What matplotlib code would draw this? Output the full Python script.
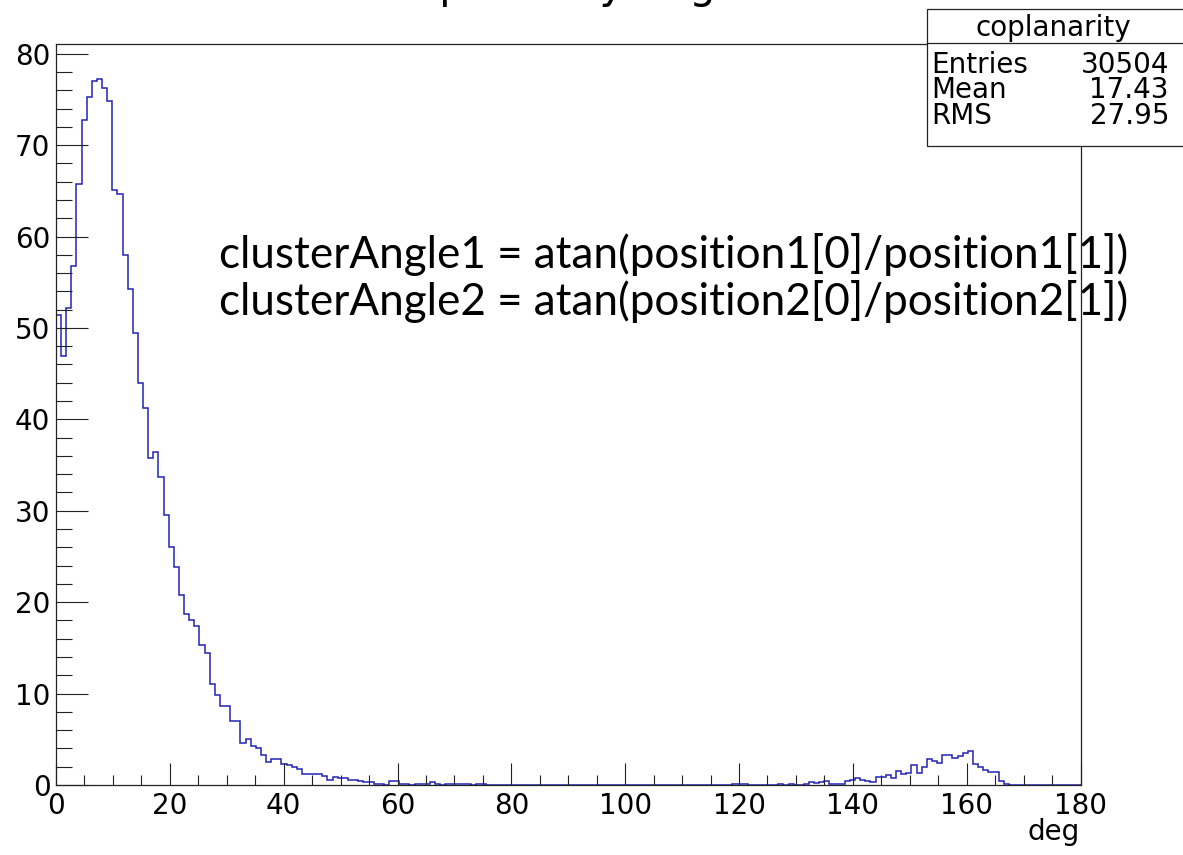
import matplotlib
matplotlib.use('Agg')
import matplotlib.pyplot as plt
import numpy as np
from matplotlib.patches import Rectangle
from matplotlib.lines import Line2D
from matplotlib.ticker import MultipleLocator

# ヒストグラム: 200 bins, 0-180 deg
x_min, x_max = 0, 180
counts = [
    51.4, 46.9, 52.2, 56.8, 65.7, 72.8, 75.3, 77.0, 77.2, 76.3,   # 0-9
    74.8, 65.1, 64.7, 58.0, 54.3, 49.4, 44.0, 41.2, 35.8, 36.4,   # 10-19
    33.7, 29.5, 26.0, 23.9, 20.8, 18.7, 18.1, 17.4, 15.3, 14.4,   # 20-29
    11.0, 9.85, 8.6, 8.6, 7.05, 7.05, 4.6, 5.05, 4.25, 4.05,      # 30-39
    3.3, 2.55, 2.85, 2.85, 2.3, 2.15, 1.95, 1.8, 1.15, 1.15,      # 40-49
    1.15, 1.15, 0.95, 0.6, 0.85, 0.8, 0.8, 0.6, 0.6, 0.45,        # 50-59
    0.35, 0.3, 0.1, 0.15, 0.05, 0.45, 0.4, 0.15, 0.1, 0.0,        # 60-69
    0.12, 0.12, 0.12, 0.3, 0.1, 0.0, 0.1, 0.12, 0.12, 0.12,       # 70-79
    0.12, 0.0, 0.1, 0.1, 0, 0, 0, 0, 0, 0,                        # 80-89
    0, 0, 0, 0, 0, 0, 0, 0, 0, 0,                                 # 90-99
    0, 0, 0, 0, 0, 0, 0, 0, 0, 0,                                 # 100-109
    0, 0, 0, 0, 0, 0, 0, 0, 0, 0,                                 # 110-119
    0, 0, 0, 0, 0, 0, 0, 0, 0, 0,                                 # 120-129
    0, 0, 0.08, 0.08, 0.08, 0, 0, 0, 0, 0,                        # 130-139
    0, 0.1, 0, 0.1, 0, 0, 0.12, 0.33, 0.22, 0.38,                 # 140-149
    0.4, 0.15, 0.15, 0.15, 0.4, 0.55, 0.75, 0.5, 0.4, 0.35,       # 150-159
    0.9, 0.85, 1.1, 0.75, 1.5, 1.25, 1.3, 2.2, 1.3, 2.0,          # 160-169
    2.8, 2.65, 2.45, 3.3, 3.3, 2.9, 3.15, 3.45, 3.75, 2.3,        # 170-179
    2.0, 1.65, 1.45, 1.4, 0.45, 0.13, 0, 0, 0, 0,                 # 180-189
    0, 0, 0, 0, 0, 0, 0, 0, 0, 0,                                 # 190-199
]

title = 'coplanarity angle'
x_label = 'deg'
stats_name = 'coplanarity'
stats_keys = ['Entries', 'Mean', 'RMS']
stats_vals = ['30504', '17.43', '27.95']
note_lines = ['clusterAngle1 = atan(position1[0]/position1[1])',
              'clusterAngle2 = atan(position2[0]/position2[1])']

W, H = 1183, 855
line_color = '#2323b4'

fig = plt.figure(figsize=(W / 100, H / 100), dpi=100)
ax = fig.add_axes([56 / W, 1 - 785 / H, (1080.5 - 56) / W, (785 - 44) / H])

edges = np.linspace(x_min, x_max, len(counts) + 1)
ax.stairs(counts, edges, color=line_color, linewidth=1.1, baseline=0)

ax.set_xlim(x_min, x_max)
ax.set_ylim(0, 1.05 * max(counts))
ax.xaxis.set_major_locator(MultipleLocator(20))
ax.xaxis.set_minor_locator(MultipleLocator(5))
ax.yaxis.set_major_locator(MultipleLocator(10))
ax.yaxis.set_minor_locator(MultipleLocator(2))
ax.tick_params(which='both', direction='in', top=False, right=False, width=0.8, color='#222222')
ax.tick_params(axis='y', which='major', length=23, labelsize=20, pad=4)
ax.tick_params(axis='y', which='minor', length=11.5)
ax.tick_params(axis='x', which='major', length=16, labelsize=20, pad=5)
ax.tick_params(axis='x', which='minor', length=7.5)
for s in ax.spines.values():
    s.set_linewidth(0.9)
    s.set_color('#222222')

# タイトル (元画像では上が切れて下端だけ見えている)
fig.text(572 / W, 1 + 2 / H, title, ha='center', va='baseline', fontsize=30)
fig.text(1080 / W, 1 - 840 / H, x_label, ha='right', va='baseline', fontsize=20)

# 統計ボックス
fig.add_artist(Rectangle((927 / W, 1 - 146 / H), (1200 - 927) / W, (146 - 9.3) / H,
                         transform=fig.transFigure, facecolor='white',
                         edgecolor='#222222', linewidth=0.9, zorder=5))
fig.add_artist(Line2D([927 / W, 1.02], [1 - 42.7 / H, 1 - 42.7 / H],
                      transform=fig.transFigure, color='#222222', linewidth=0.9, zorder=6))
fig.text(1053 / W, 1 - 36 / H, stats_name, ha='center', va='baseline', fontsize=20, zorder=7)
for i, (k, v) in enumerate(zip(stats_keys, stats_vals)):
    yb = 1 - (72.7 + 25.8 * i) / H
    fig.text(931.7 / W, yb, k, ha='left', va='baseline', fontsize=20, zorder=7)
    fig.text(1169 / W, yb, v, ha='right', va='baseline', fontsize=20, zorder=7)

# 注釈テキスト (枠線の下に描く)
notes = []
for i, line in enumerate(note_lines):
    t = ax.text(219 / W, 1 - (268 + 47 * i) / H, line, transform=fig.transFigure,
                ha='left', va='baseline', fontsize=30, family='Lato', zorder=1)
    notes.append(t)
fig.canvas.draw()
w = notes[0].get_window_extent().width
for t in notes:
    t.set_fontsize(t.get_fontsize() * 908 / w)

fig.savefig('out.png', dpi=100)
